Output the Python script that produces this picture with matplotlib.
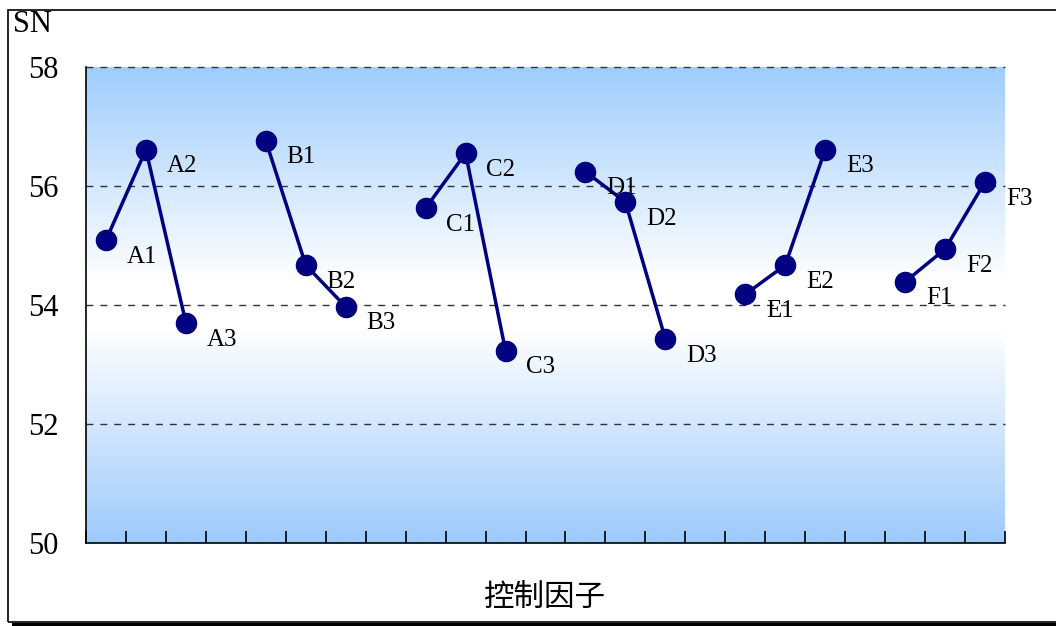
import numpy as np
import matplotlib.pyplot as plt
from matplotlib.colors import LinearSegmentedColormap
from matplotlib.patches import Rectangle

# factor levels and SN ratios
factors = ['A', 'B', 'C', 'D', 'E', 'F']
sn_values = {
    'A': [55.09, 56.61, 53.70],
    'B': [56.76, 54.67, 53.97],
    'C': [55.63, 56.55, 53.23],
    'D': [56.24, 55.73, 53.43],
    'E': [54.18, 54.67, 56.61],
    'F': [54.39, 54.94, 56.07],
}
y_ticks = [50, 52, 54, 56, 58]
n_slots = 23  # 6 groups of 3 with one empty slot between groups

plt.rcParams['font.family'] = ['Liberation Serif', 'DejaVu Serif']

fig = plt.figure(figsize=(10.56, 6.26), dpi=100)
ax = fig.add_axes([86 / 1056, 83 / 626, 919 / 1056, 476 / 626])

# background gradient: blue - white - blue
cmap = LinearSegmentedColormap.from_list(
    'bg', [(0, '#9dcafc'), (0.45, '#ffffff'), (0.55, '#ffffff'), (1, '#9fcdfd')])
grad = np.linspace(0, 1, 256).reshape(-1, 1)
ax.imshow(grad, extent=[0, n_slots, 50, 58], origin='lower', aspect='auto',
          cmap=cmap, zorder=0)

for y in [52, 54, 56, 58]:
    ax.axhline(y, color='#333333', lw=1, ls=(0, (5, 5)), zorder=1, clip_on=False)

for g, f in enumerate(factors):
    xs = [g * 4 + i + 0.5 for i in range(3)]
    ys = sn_values[f]
    ax.plot(xs, ys, color='#000080', lw=2.5, marker='o', markersize=14.5,
            markerfacecolor='#000080', markeredgecolor='#000080', zorder=3)
    for i, (x, y) in enumerate(zip(xs, ys)):
        ax.annotate(f'{f}{i + 1}', (x, y), xytext=(15, -12),
                    textcoords='offset points', ha='left', va='center',
                    fontsize=18, color='black', zorder=4)

ax.set_xlim(0, n_slots)
ax.set_ylim(50, 58)
ax.set_xticks(np.arange(0, n_slots + 1))
ax.set_xticklabels([])
ax.set_yticks(y_ticks)
ax.set_yticklabels([str(v) for v in y_ticks], fontsize=22)
ax.tick_params(axis='x', direction='in', length=9, width=1.2, color='black')
ax.tick_params(axis='y', length=0, pad=20)
for side in ['top', 'right']:
    ax.spines[side].set_visible(False)
ax.spines['left'].set_linewidth(1.2)
ax.spines['bottom'].set_linewidth(1.2)

fig.text(13 / 1056, 1 - 25 / 626, 'SN', fontsize=22, ha='left', va='center')
fig.text(545 / 1056, 1 - 598 / 626, '控制因子', fontsize=22, ha='center',
         va='center', family=['Noto Sans CJK TC', 'DejaVu Sans'])

# outer frame with a shadow at the bottom
fig.add_artist(Rectangle((8 / 1056, 4 / 626), 1.1, 1 - 14 / 626,
                         transform=fig.transFigure, fill=False, lw=1.2,
                         edgecolor='black'))
fig.add_artist(Rectangle((12 / 1056, 0), 1.1, 3 / 626,
                         transform=fig.transFigure, color='black', lw=0))

fig.savefig('out.png', dpi=100)
